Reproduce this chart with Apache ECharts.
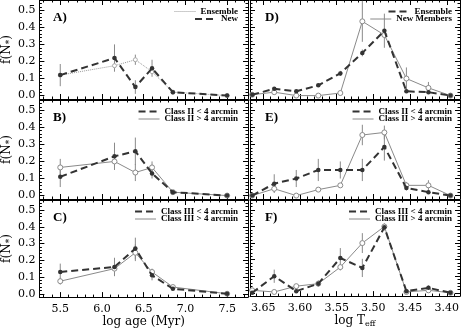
<!DOCTYPE html>
<html>
<head>
<meta charset="utf-8">
<title>f(N*) vs age and Teff</title>
<style>
  html, body { margin: 0; padding: 0; background: #fff; }
  #chart { width: 463px; height: 329px; }
</style>
</head>
<body>
<div id="chart"></div>
<script src="https://cdn.jsdelivr.net/npm/echarts@6/dist/echarts.min.js"></script>
<script>
// bin centres
var ageX = [5.5, 6.15, 6.4, 6.6, 6.85, 7.5];
var teffX = [3.665, 3.635, 3.605, 3.575, 3.545, 3.515, 3.485, 3.455, 3.425, 3.395];

// tick labels
var ageTicks = [5.5, 6.0, 6.5, 7.0, 7.5];
var teffTicks = [3.65, 3.60, 3.55, 3.50, 3.45, 3.40];
var fTicks = [0.0, 0.1, 0.2, 0.3, 0.4, 0.5];

// A) ensemble vs new (age)
var aEnsemble    = [0.12, 0.175, 0.21, 0.14, 0.02, 0.0];
var aEnsembleErr = [0, 0, 0.03, 0, 0, 0];
var aNew         = [0.12, 0.22, 0.05, 0.16, 0.02, 0.0];
var aNewErr      = [0.065, 0.08, 0.04, 0.05, 0, 0];

// B) class II inside / outside 4 arcmin (age)
var bIn     = [0.11, 0.23, 0.26, 0.13, 0.02, 0.0];
var bInErr  = [0.06, 0.08, 0.08, 0.03, 0, 0];
var bOut    = [0.165, 0.2, 0.135, 0.165, 0.02, 0.0];
var bOutErr = [0.05, 0.03, 0.05, 0.035, 0, 0];

// C) class III inside / outside 4 arcmin (age)
var cIn     = [0.13, 0.16, 0.27, 0.11, 0.03, 0.0];
var cInErr  = [0.05, 0.055, 0.065, 0.03, 0, 0];
var cOut    = [0.075, 0.15, 0.245, 0.13, 0.04, 0.0];
var cOutErr = [0.02, 0.04, 0.05, 0.02, 0, 0];

// D) ensemble vs new members (Teff)
var dEnsemble    = [0.005, 0.04, 0.025, 0.06, 0.13, 0.25, 0.38, 0.025, 0.02, 0.0];
var dEnsembleErr = [0, 0, 0, 0, 0.015, 0.02, 0.1, 0, 0, 0];
var dNew         = [0.005, 0.02, 0.0, 0.0, 0.015, 0.435, 0.355, 0.10, 0.045, 0.0];
var dNewErr      = [0, 0, 0, 0, 0.01, 0.12, 0, 0.065, 0.035, 0];

// E) class II inside / outside 4 arcmin (Teff)
var eIn     = [0.0, 0.07, 0.10, 0.15, 0.15, 0.15, 0.285, 0.045, 0.02, 0.0];
var eInErr  = [0, 0.055, 0.05, 0.065, 0.05, 0.065, 0.08, 0.015, 0.01, 0];
var eOut    = [0.0, 0.04, 0.0, 0.035, 0.06, 0.355, 0.37, 0.06, 0.06, 0.0];
var eOutErr = [0, 0.02, 0, 0.01, 0.01, 0.06, 0.04, 0.02, 0.03, 0];

// F) class III inside / outside 4 arcmin (Teff)
var fIn     = [0.0, 0.10, 0.01, 0.055, 0.21, 0.15, 0.395, 0.01, 0.03, 0.0];
var fInErr  = [0, 0.04, 0.01, 0.02, 0.06, 0.055, 0.02, 0, 0.015, 0];
var fOut    = [0.015, 0.005, 0.04, 0.055, 0.155, 0.30, 0.40, 0.005, 0.015, 0.0];
var fOutErr = [0.01, 0, 0.01, 0.01, 0.02, 0.06, 0.02, 0, 0.01, 0];

var SERIF = 'DejaVu Serif';
var LEG = 'Liberation Serif';

function steps(a, b, d) {
  var out = [];
  for (var v = a; v <= b + 1e-9; v += d) out.push(Math.round(v * 1000) / 1000);
  return out;
}

var rows = [{ top: 0, h: 99 }, { top: 100, h: 99 }, { top: 200, h: 98 }];
var cols = [
  { left: 39, w: 209, min: 5.25, max: 7.75, inverse: false, major: ageTicks, minor: steps(5.3, 7.7, 0.1), dec: 1, legRight: 225 },
  { left: 250, w: 210, min: 3.382, max: 3.668, inverse: true, major: teffTicks, minor: steps(3.39, 3.66, 0.01), dec: 2, legRight: 11 }
];
var yMinor = steps(0, 0.54, 0.02);

var styles = {
  dashed: { lineStyle: { color: '#333', width: 2, type: [7, 4] }, symbol: 'circle', symbolSize: 4.5, itemStyle: { color: '#333' } },
  solid:  { lineStyle: { color: '#8a8a8a', width: 1 }, symbol: 'circle', symbolSize: 5, itemStyle: { color: '#fff', borderColor: '#8a8a8a', borderWidth: 1 } },
  dotted: { lineStyle: { color: '#9a9a9a', width: 1, type: 'dotted' }, symbol: 'circle', symbolSize: 4, itemStyle: { color: '#fff', borderColor: '#aaa', borderWidth: 1 } }
};

var panels = [
  { r: 0, c: 0, label: 'A)', s: [
    { name: 'Ensemble', y: aEnsemble, e: aEnsembleErr, st: 'dotted' },
    { name: 'New', y: aNew, e: aNewErr, st: 'dashed' } ] },
  { r: 1, c: 0, label: 'B)', s: [
    { name: 'Class II < 4 arcmin', y: bIn, e: bInErr, st: 'dashed' },
    { name: 'Class II > 4 arcmin', y: bOut, e: bOutErr, st: 'solid' } ] },
  { r: 2, c: 0, label: 'C)', s: [
    { name: 'Class III < 4 arcmin', y: cIn, e: cInErr, st: 'dashed' },
    { name: 'Class III > 4 arcmin', y: cOut, e: cOutErr, st: 'solid' } ] },
  { r: 0, c: 1, label: 'D)', s: [
    { name: 'Ensemble', y: dEnsemble, e: dEnsembleErr, st: 'dashed' },
    { name: 'New Members', y: dNew, e: dNewErr, st: 'solid' } ] },
  { r: 1, c: 1, label: 'E)', s: [
    { name: 'Class II < 4 arcmin', y: eIn, e: eInErr, st: 'dashed' },
    { name: 'Class II > 4 arcmin', y: eOut, e: eOutErr, st: 'solid' } ] },
  { r: 2, c: 1, label: 'F)', s: [
    { name: 'Class III < 4 arcmin', y: fIn, e: fInErr, st: 'dashed' },
    { name: 'Class III > 4 arcmin', y: fOut, e: fOutErr, st: 'solid' } ] }
];

function axis(g, pos, min, max, inverse, vals, len, showLine, label, name) {
  var a = {
    type: 'value', gridIndex: g, position: pos, min: min, max: max, inverse: inverse,
    splitLine: { show: false },
    axisLine: { show: showLine, onZero: false, lineStyle: { color: '#000', width: 1 } },
    axisTick: { show: true, inside: true, length: len, customValues: vals, lineStyle: { color: '#000', width: 1 } },
    axisLabel: { show: false }
  };
  if (label) a.axisLabel = label;
  if (name) {
    a.name = name.text;
    a.nameLocation = 'middle';
    a.nameGap = name.gap;
    a.nameTextStyle = name.style;
  }
  return a;
}

var grid = [], xAxis = [], yAxis = [], series = [], legend = [], title = [];

panels.forEach(function (p, g) {
  var row = rows[p.r], col = cols[p.c];
  var x = p.c === 0 ? ageX : teffX;
  grid.push({ left: col.left, top: row.top, width: col.w, height: row.h });

  var xLabel = null, xName = null;
  if (p.r === 2) {
    xLabel = { show: true, customValues: col.major, margin: 7, color: '#000', fontFamily: SERIF, fontSize: 11,
      formatter: (function (d) { return function (v) { return v.toFixed(d); }; })(col.dec) };
    xName = p.c === 0
      ? { text: 'log age (Myr)', gap: 17, style: { color: '#000', fontFamily: SERIF, fontSize: 12 } }
      : { text: 'log T{s|eff}', gap: 16, style: { color: '#000', fontFamily: SERIF, fontSize: 12,
          rich: { s: { fontFamily: SERIF, fontSize: 8, verticalAlign: 'bottom', padding: [6, 0, 0, 0] } } } };
  }
  var xi = xAxis.length;
  xAxis.push(axis(g, 'bottom', col.min, col.max, col.inverse, col.major, 5, true, xLabel, xName));
  xAxis.push(axis(g, 'bottom', col.min, col.max, col.inverse, col.minor, 2.5, false));
  xAxis.push(axis(g, 'top', col.min, col.max, col.inverse, col.major, 5, true));
  xAxis.push(axis(g, 'top', col.min, col.max, col.inverse, col.minor, 2.5, false));

  var yLabel = null, yName = null;
  if (p.c === 0) {
    yLabel = { show: true, customValues: fTicks, margin: 4, color: '#000', fontFamily: SERIF, fontSize: 11,
      formatter: function (v) { return v.toFixed(1); } };
    yName = { text: 'f(N{s|*})', gap: 25, style: { color: '#000', fontFamily: SERIF, fontSize: 12,
      rich: { s: { fontFamily: SERIF, fontSize: 9, verticalAlign: 'bottom', padding: [5, 0, 0, 0] } } } };
  }
  var yi = yAxis.length;
  yAxis.push(axis(g, 'left', -0.02, 0.56, false, fTicks, 5, true, yLabel, yName));
  yAxis.push(axis(g, 'left', -0.02, 0.56, false, yMinor, 2.5, false));
  yAxis.push(axis(g, 'right', -0.02, 0.56, false, fTicks, 5, true));
  yAxis.push(axis(g, 'right', -0.02, 0.56, false, yMinor, 2.5, false));

  title.push({ text: p.label, left: col.left + (p.c === 0 ? 14 : 15), top: row.top + 11, padding: 0,
    textStyle: { color: '#000', fontFamily: LEG, fontWeight: 'bold', fontSize: 13 } });

  p.s.forEach(function (s, k) {
    var st = styles[s.st];
    // error bars
    series.push({
      type: 'custom', xAxisIndex: xi, yAxisIndex: yi, silent: true, z: 1,
      data: x.map(function (v, i) { return [v, s.y[i], s.e[i]]; }),
      renderItem: function (params, api) {
        var e = api.value(2);
        if (!e) return null;
        var p1 = api.coord([api.value(0), api.value(1) - e]);
        var p2 = api.coord([api.value(0), api.value(1) + e]);
        return { type: 'line', shape: { x1: p1[0], y1: p1[1], x2: p2[0], y2: p2[1] },
          style: { stroke: '#8a8a8a', lineWidth: 1 } };
      }
    });
    series.push({
      type: 'line', name: s.name, xAxisIndex: xi, yAxisIndex: yi, z: s.st === 'dashed' ? 4 : 3,
      data: x.map(function (v, i) { return [v, s.y[i]]; }),
      lineStyle: st.lineStyle, symbol: st.symbol, symbolSize: st.symbolSize, itemStyle: st.itemStyle,
      showSymbol: true
    });
    legend.push({
      data: [{ name: s.name, lineStyle: st.lineStyle }],
      right: col.legRight, top: row.top + 7 + k * 7.5, padding: 0, itemWidth: 21, itemHeight: 8,
      selectedMode: false, itemStyle: { opacity: 0 },
      textStyle: { color: '#000', fontFamily: LEG, fontWeight: 'bold', fontSize: 9 }
    });
  });
});

var chart = echarts.init(document.getElementById('chart'), null, { renderer: 'canvas' });
chart.setOption({
  animation: false,
  backgroundColor: '#fff',
  title: title,
  legend: legend,
  grid: grid,
  xAxis: xAxis,
  yAxis: yAxis,
  series: series
});
</script>
</body>
</html>
